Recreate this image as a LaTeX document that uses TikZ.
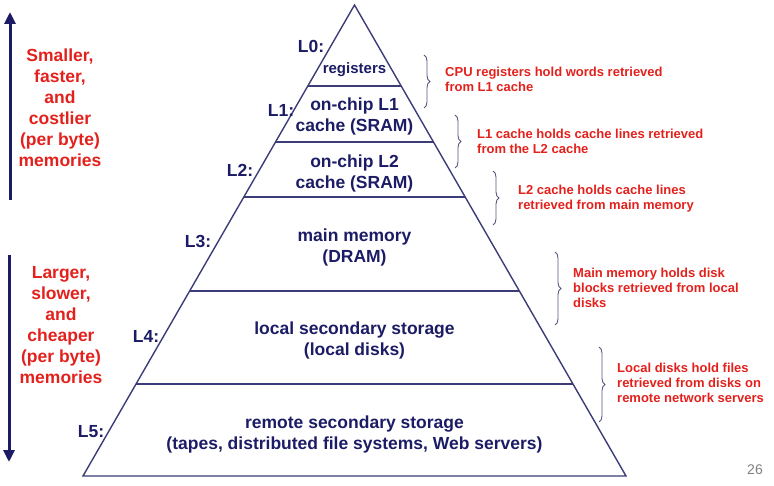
\documentclass[tikz,border=0pt]{standalone}
\usepackage{fontspec}
\setmainfont{Liberation Sans}
\usetikzlibrary{decorations.pathreplacing,arrows.meta}
\definecolor{navy}{HTML}{1C1C66}
\definecolor{redtxt}{HTML}{E3211C}
\definecolor{linec}{HTML}{3C3C78}
\definecolor{bracec}{HTML}{55557E}
\begin{document}
\begin{tikzpicture}[x=1pt,y=-1pt,
 lvl/.style={font=\bfseries\fontsize{17.5}{21}\selectfont, text=navy, align=center, inner sep=0},
 lbl/.style={font=\bfseries\fontsize{17.5}{21}\selectfont, text=navy, inner sep=0},
 note/.style={font=\bfseries\fontsize{13}{15}\selectfont, text=redtxt, align=left, anchor=west, inner sep=0},
 side/.style={font=\bfseries\fontsize{17.5}{21}\selectfont, text=redtxt, align=center, inner sep=0},
 brc/.style={draw=bracec, line width=0.9pt, decorate, decoration={brace, amplitude=6pt}},
 tier/.style={draw=linec, line width=1.4pt},
 bigarrow/.style={draw=navy, line width=3pt, -{Triangle[length=12pt,width=11pt]}}
]
\useasboundingbox (0,0) rectangle (774,486);

% pyramid
\coordinate (apex) at (354.5,5);
\coordinate (bl) at (83,476);
\coordinate (br) at (626,476);
\draw[tier, line join=miter] (bl) -- (apex) -- (br) -- cycle;
\draw[tier] (307.8,86) -- (401.2,86);
\draw[tier] (275.5,142) -- (433.5,142);
\draw[tier] (243.8,197) -- (465.2,197);
\draw[tier] (189.6,291) -- (519.4,291);
\draw[tier] (136.0,384) -- (573.0,384);

% level texts
\node[lvl, font=\bfseries\fontsize{15}{18}\selectfont] (t0) at (354.5,70) {registers};
\node[lvl] (t1) at (354.5,116) {on-chip L1\\cache (SRAM)};
\node[lvl] (t2) at (354.5,173) {on-chip L2\\cache (SRAM)};
\node[lvl] (t3) at (354.5,247) {main memory\\(DRAM)};
\node[lvl] (t4) at (354.5,340) {local secondary storage\\(local disks)};
\node[lvl] (t5) at (354.5,434) {remote secondary storage\\(tapes, distributed file systems, Web servers)};

% level labels
\node[lbl] (l0) at (311,46) {L0:};
\node[lbl] (l1) at (281,110) {L1:};
\node[lbl] (l2) at (240,170) {L2:};
\node[lbl] (l3) at (198,241) {L3:};
\node[lbl] (l4) at (146,336) {L4:};
\node[lbl] (l5) at (91,432) {L5:};

% braces
\draw[brc] (424,55) -- (424,108);
\draw[brc] (455,115) -- (455,168);
\draw[brc] (493,171) -- (493,225);
\draw[brc] (555,252) -- (555,325);
\draw[brc] (599,347) -- (599,422);

% notes
\node[note] (n0) at (445,79.5) {CPU registers hold words retrieved\\from L1 cache};
\node[note] (n1) at (477,141.5) {L1 cache holds cache lines retrieved\\from the L2 cache};
\node[note] (n2) at (518,198.5) {L2 cache holds cache lines\\retrieved from main memory};
\node[note] (n3) at (573,287.5) {Main memory holds disk\\blocks retrieved from local\\disks};
\node[note] (n4) at (617,383) {Local disks hold files\\retrieved from disks on\\remote network servers};

% side arrows and texts
\coordinate (upS) at (10,200);
\coordinate (upE) at (10,12);
\coordinate (dnS) at (9,255);
\coordinate (dnE) at (9,462);
\draw[bigarrow] (upS) -- (upE);
\draw[bigarrow] (dnS) -- (dnE);
\node[side] (s1) at (60,108) {Smaller,\\faster,\\and\\costlier\\(per byte)\\memories};
\node[side] (s2) at (61,325) {Larger,\\slower,\\and\\cheaper\\(per byte)\\memories};

% page number
\node[text=gray, font=\fontsize{14}{16}\selectfont, inner sep=0] (pg) at (755,470) {26};
\end{tikzpicture}
\end{document}
